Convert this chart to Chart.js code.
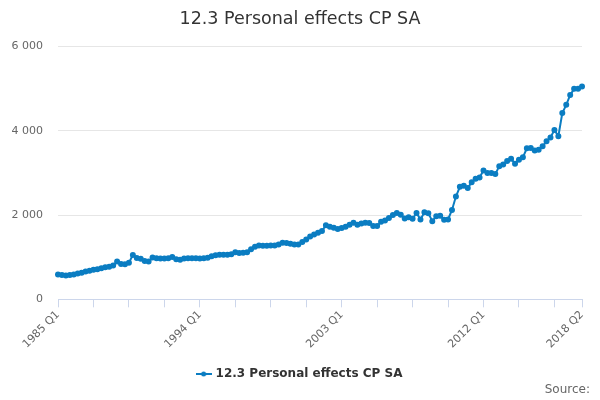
<!DOCTYPE html>
<html lang="en">
<head>
    <meta charset="UTF-8">
    <title>12.3 Personal effects CP SA</title>
    <style>
        html, body { margin: 0; padding: 0; background: #fff; }
        #wrap { width: 600px; height: 400px; }
    </style>
</head>
<body>
<div id="wrap">
    <canvas id="effectsChart"></canvas>
</div>
<script src="https://cdn.jsdelivr.net/npm/chart.js"></script>
<script>
// quarterly values, 1985 Q1 .. 2018 Q2
const values = [
    590, 580, 565, 575, 590, 610, 630, 660, 680, 700,
    715, 735, 760, 775, 800, 900, 840, 830, 870, 1050,
    980, 965, 910, 895, 990, 975, 970, 970, 975, 1005,
    950, 940, 970, 975, 975, 975, 970, 975, 985, 1020,
    1045, 1060, 1060, 1060, 1070, 1120, 1100, 1105, 1120, 1190,
    1250, 1275, 1270, 1270, 1275, 1280, 1300, 1340, 1335, 1320,
    1300, 1300, 1360, 1420, 1490, 1540, 1580, 1620, 1760, 1720,
    1700, 1670, 1690, 1720, 1770, 1820, 1770, 1800, 1820, 1810,
    1740, 1740, 1840, 1870, 1930, 2000, 2050, 2010, 1920, 1950,
    1910, 2050, 1895, 2065, 2045, 1855, 1970, 1985, 1890, 1895,
    2120, 2440, 2670, 2695, 2640, 2780, 2860, 2890, 3060, 2995,
    2995, 2972, 3160, 3200, 3280, 3335, 3220, 3310, 3370, 3585,
    3590, 3530, 3550, 3630, 3750, 3840, 4020, 3870, 4420, 4615,
    4850, 4995, 5000, 5050
];
const firstYear = 1985;
const yTicks = [0, 2000, 4000, 6000];
const seriesName = "12.3 Personal effects CP SA";
const sourceText = "Source:";

const labels = [];
for (let i = 0; i < values.length; i++) {
    labels.push((firstYear + Math.floor(i / 4)) + " Q" + (i % 4 + 1));
}
const lastIdx = labels.length - 1;
const lineColor = '#0b7dc2';

// legend marker: short line with a dot, like the original
const marker = document.createElement('canvas');
marker.width = 16; marker.height = 8;
const mctx = marker.getContext('2d');
mctx.strokeStyle = lineColor; mctx.lineWidth = 2;
mctx.beginPath(); mctx.moveTo(0, 4); mctx.lineTo(16, 4); mctx.stroke();
mctx.fillStyle = lineColor;
mctx.beginPath(); mctx.arc(8, 4, 2.5, 0, Math.PI * 2); mctx.fill();

const fmt = (v) => String(v).replace(/\B(?=(\d{3})+(?!\d))/g, ' ');

// "Source:" credit in the bottom right corner
const sourceNote = {
    id: 'sourceNote',
    afterDraw(chart) {
        const ctx = chart.ctx;
        ctx.save();
        ctx.font = '12px "DejaVu Sans"';
        ctx.fillStyle = '#666666';
        ctx.textAlign = 'right';
        ctx.textBaseline = 'middle';
        ctx.fillText(sourceText, chart.width - 10, chart.height - 10);
        ctx.restore();
    }
};

new Chart(document.getElementById('effectsChart'), {
    type: 'line',
    data: {
        labels: labels,
        datasets: [{
            label: seriesName,
            data: values,
            borderColor: lineColor,
            backgroundColor: lineColor,
            borderWidth: 2,
            pointRadius: 2,
            pointStyle: 'circle',
            tension: 0
        }]
    },
    plugins: [sourceNote],
    options: {
        responsive: true,
        maintainAspectRatio: false,
        animation: false,
        layout: { padding: { left: 10, right: 10, top: 4, bottom: 10 } },
        plugins: {
            title: {
                display: true,
                text: seriesName,
                color: '#333333',
                font: { family: 'DejaVu Sans', size: 17.5, weight: 'normal' },
                padding: { top: 4.5, bottom: 17 }
            },
            legend: {
                position: 'bottom',
                labels: {
                    usePointStyle: true,
                    pointStyle: marker,
                    color: '#333333',
                    font: { family: 'DejaVu Sans', size: 12, weight: 'bold' },
                    padding: 6
                }
            },
            tooltip: { enabled: false }
        },
        scales: {
            x: {
                offset: false,
                border: { color: '#ccd6eb' },
                grid: {
                    drawOnChartArea: false,
                    drawTicks: true,
                    tickLength: 8,
                    color: (c) => (c.index % 9 === 0 || c.index === lastIdx) ? '#ccd6eb' : 'rgba(0,0,0,0)'
                },
                ticks: {
                    autoSkip: false,
                    maxRotation: 45,
                    minRotation: 45,
                    color: '#666666',
                    font: { family: 'DejaVu Sans', size: 11 },
                    padding: 1,
                    callback: function (v, i) {
                        return (i % 36 === 0 || i === lastIdx) ? labels[i] : '';
                    }
                },
                afterFit: (axis) => {
                    axis.height += 10;
                    axis.paddingRight = 18;
                }
            },
            y: {
                min: 0,
                max: 6000,
                afterBuildTicks: (axis) => { axis.ticks = yTicks.map(v => ({ value: v })); },
                afterFit: (axis) => { axis.width = 48; },
                border: { display: false },
                grid: { color: '#e6e6e6', drawTicks: false },
                ticks: {
                    color: '#666666',
                    font: { family: 'DejaVu Sans', size: 11 },
                    padding: 15,
                    callback: (v) => fmt(v)
                }
            }
        }
    }
});
</script>
</body>
</html>
